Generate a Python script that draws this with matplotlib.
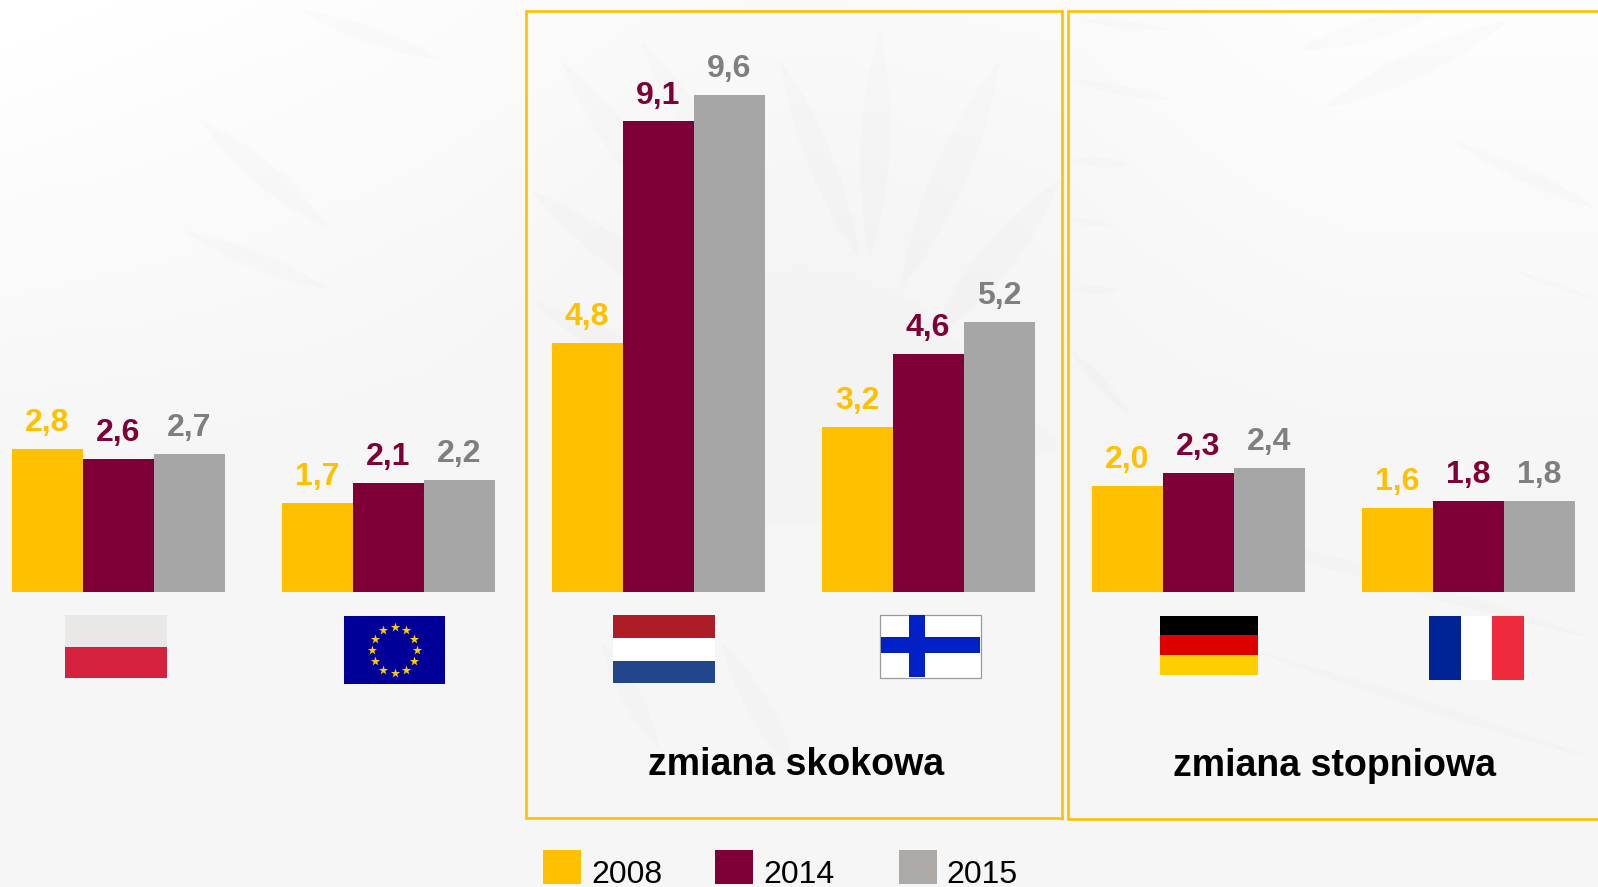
import matplotlib
matplotlib.use('Agg')
import matplotlib.pyplot as plt
from matplotlib.patches import Rectangle, PathPatch
from matplotlib.path import Path
import numpy as np

years = ['2008', '2014', '2015']
v2008 = [2.76, 1.72, 4.81, 3.18, 2.04, 1.62]
v2014 = [2.56, 2.10, 9.08, 4.60, 2.29, 1.76]
v2015 = [2.66, 2.16, 9.60, 5.21, 2.39, 1.76]
bar_colors = ['#FFC000', '#7F0037', '#A6A6A6']
label_colors = ['#FFC000', '#7F0037', '#7F7F7F']

W, H = 1598, 887
plt.rcParams['font.family'] = ['Liberation Sans', 'DejaVu Sans']
fig = plt.figure(figsize=((W + 0.2) / 100, (H + 0.2) / 100), dpi=100)

# background, pixel coords from here on
bg = fig.add_axes([0, 0, 1, 1])
bg.set_xlim(0, W)
bg.set_ylim(H, 0)
bg.axis('off')
yy, xx = np.mgrid[0:1:120j, 0:1:200j]
shade = 9 * np.clip(yy * 2.0, 0, 1) + 5 * np.clip(xx * 2.5, 0, 1) * np.clip(1 - yy * 1.6, 0, 1)
shade = shade + 3 * np.exp(-((xx - 0.5) ** 2 / 0.03 + (yy - 0.35) ** 2 / 0.1))
shade = shade - 3 * np.clip((xx - 0.68) * 6, 0, 1) * np.clip(1 - yy * 1.6, 0, 1)
bg.imshow(np.clip(255 - shade, 0, 255), extent=[0, W, H, 0], aspect='auto', cmap='gray', vmin=0, vmax=255, zorder=0)


def feather(x0, y0, x1, y1, w, c='#000000', a=0.012):
    dx, dy = x1 - x0, y1 - y0
    nx, ny = -dy, dx
    n = np.hypot(nx, ny)
    nx, ny = nx / n * w, ny / n * w
    mx, my = (x0 + x1) / 2, (y0 + y1) / 2
    p = Path([(x0, y0), (mx + nx, my + ny), (x1, y1), (mx - nx, my - ny), (x0, y0)],
             [Path.MOVETO, Path.CURVE3, Path.CURVE3, Path.CURVE3, Path.CURVE3])
    bg.add_patch(PathPatch(p, fc=c, ec='none', alpha=a, zorder=1))


# faint eagle behind the chart
for f in [(560, 60, 700, 250, 30), (640, 40, 760, 230, 28), (530, 190, 720, 330, 30),
          (530, 300, 740, 420, 28), (780, 60, 860, 260, 26), (880, 30, 870, 260, 30),
          (1000, 60, 900, 290, 34), (1060, 180, 930, 340, 34), (1080, 20, 1170, 30, 8),
          (1070, 80, 1170, 100, 10), (1070, 160, 1130, 165, 10), (1070, 220, 1110, 225, 8),
          (1070, 290, 1120, 290, 8), (1070, 350, 1130, 415, 10), (1300, 50, 1440, 10, 22),
          (1320, 110, 1510, 20, 26), (1450, 140, 1598, 210, 14), (1510, 270, 1598, 300, 6),
          (200, 120, 330, 230, 24), (180, 230, 330, 290, 18), (300, 10, 440, 60, 16),
          (720, 640, 800, 780, 24), (600, 640, 660, 750, 20),
          (1150, 510, 1598, 640, 14), (1250, 650, 1598, 760, 10)]:
    feather(*f)

# bars
ax = fig.add_axes([0, (H - 592) / H, 1, 592 / H])
ax.patch.set_alpha(0)
group_w = 270.0
ax.set_xlim(-118 / group_w, (W - 118) / group_w)
ax.set_ylim(0, 592 / 51.8)
ax.axis('off')
bw = 71 / group_w
series = [v2008, v2014, v2015]
for i, vals in enumerate(series):
    xs = np.arange(len(vals)) + (i - 1) * bw
    ax.bar(xs, vals, width=bw, color=bar_colors[i], linewidth=0)
    for x, v in zip(xs, vals):
        ax.annotate(f'{v:.1f}'.replace('.', ','), (x, v), xytext=(0, 13), textcoords='offset points',
                    ha='center', va='baseline', fontsize=23, fontweight='bold', color=label_colors[i])

# overlay for frames, flags and legend
ov = fig.add_axes([0, 0, 1, 1])
ov.patch.set_alpha(0)
ov.set_xlim(0, W)
ov.set_ylim(H, 0)
ov.axis('off')


def rect(x0, y0, x1, y1, c, **kw):
    ov.add_patch(Rectangle((x0, y0), x1 - x0, y1 - y0, fc=c, ec=kw.pop('ec', 'none'), lw=kw.pop('lw', 0), **kw))


frame_c = '#FFC000'
ov.plot([1062, 526, 526, 1062, 1062], [818.5, 818.5, 11.5, 11.5, 818.5], color=frame_c, lw=1.9, solid_joinstyle='miter')
ov.plot([W + 5, 1067.5, 1067.5, W + 5], [819.5, 819.5, 11.5, 11.5], color=frame_c, lw=1.9, solid_joinstyle='miter')

# Poland
rect(64.8, 615, 166.8, 646.7, '#E9E8E6')
rect(64.8, 646.7, 166.8, 678, '#D4213D')
# EU
rect(344, 616, 445.4, 683.7, '#000099')
angles = np.arange(12) * np.pi / 6
ov.scatter(394.7 + 22.7 * np.cos(angles), 650 + 22.7 * np.sin(angles), marker='*', s=50, color='#FFCC00', linewidths=0)
# Netherlands
rect(612.8, 615, 714.8, 637.7, '#AE1C28')
rect(612.8, 637.7, 714.8, 660.7, '#FFFFFF')
rect(612.8, 660.7, 714.8, 683, '#21468B')
# Finland
rect(880, 615, 980.8, 678, '#FFFFFF', ec='#9A9A9A', lw=0.9)
rect(908.5, 615.5, 924.8, 677.5, '#0021C6')
rect(880.5, 637, 980.3, 653.5, '#0021C6')
# Germany
rect(1159.8, 616, 1257.5, 635.5, '#000000')
rect(1159.8, 635.5, 1257.5, 655, '#DD0000')
rect(1159.8, 655, 1257.5, 674.7, '#FFCE00')
# France
rect(1428.8, 616.3, 1460.8, 680.3, '#002395')
rect(1460.8, 616.3, 1492, 680.3, '#FFFFFF')
rect(1492, 616.3, 1523.7, 680.3, '#EE2A3C')

ov.text(795.5, 774.5, 'zmiana skokowa', ha='center', va='baseline', fontsize=27, fontweight='bold', color='black')
ov.text(1334.5, 775.5, 'zmiana stopniowa', ha='center', va='baseline', fontsize=27, fontweight='bold', color='black')

# legend
leg_x = [543, 715.3, 898.5]
leg_c = ['#FFC000', '#7F0037', '#ADA9A7']
for x, c, y in zip(leg_x, leg_c, years):
    rect(x, 850, x + 38, 884, c)
    ov.text(x + 48, 883, y, ha='left', va='baseline', fontsize=23, color='black')

fig.savefig('out.png', dpi=100)
